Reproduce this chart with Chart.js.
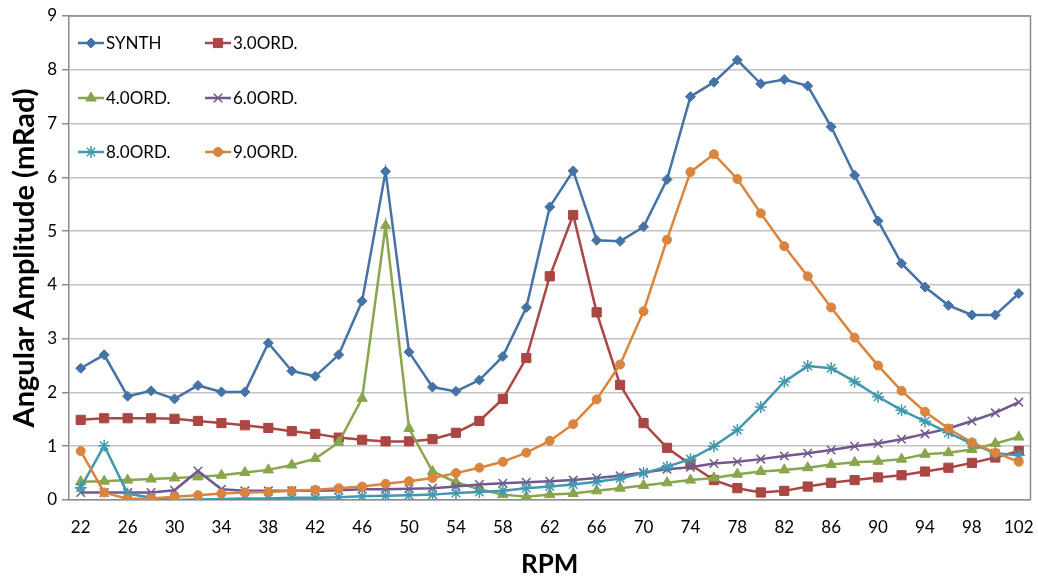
<!DOCTYPE html>
<html>
<head>
<meta charset="utf-8">
<script src="https://cdn.jsdelivr.net/npm/chart.js@4/dist/chart.umd.min.js"></script>
<style>
  html, body { margin: 0; padding: 0; background: #fff; }
  #wrap { width: 1038px; height: 580px; position: relative; }
</style>
</head>
<body>
<div id="wrap"><canvas id="c" width="1038" height="580"></canvas></div>
<script>
// RPM categories, 22 to 102 in steps of 2
const rpm = [22,24,26,28,30,32,34,36,38,40,42,44,46,48,50,52,54,56,58,60,62,64,66,68,70,72,74,76,78,80,82,84,86,88,90,92,94,96,98,100,102];

// Angular amplitude per order (mRad)
const synth = [2.45,2.70,1.93,2.03,1.88,2.13,2.01,2.01,2.92,2.40,2.30,2.70,3.70,6.11,2.75,2.10,2.02,2.23,2.67,3.58,5.45,6.12,4.83,4.81,5.08,5.96,7.50,7.77,8.18,7.74,7.82,7.70,6.94,6.04,5.19,4.40,3.96,3.62,3.44,3.44,3.84];
const ord3  = [1.49,1.52,1.52,1.52,1.51,1.47,1.43,1.39,1.34,1.28,1.23,1.16,1.12,1.09,1.09,1.13,1.25,1.47,1.88,2.64,4.16,5.30,3.49,2.14,1.43,0.97,0.66,0.37,0.22,0.14,0.17,0.25,0.32,0.37,0.42,0.46,0.53,0.60,0.69,0.79,0.91];
const ord4  = [0.34,0.35,0.37,0.39,0.41,0.43,0.46,0.51,0.56,0.65,0.77,1.07,1.89,5.10,1.33,0.53,0.33,0.20,0.10,0.06,0.10,0.12,0.17,0.22,0.27,0.32,0.37,0.41,0.48,0.53,0.56,0.60,0.66,0.70,0.72,0.76,0.85,0.88,0.94,1.05,1.17];
const ord6  = [0.14,0.14,0.14,0.14,0.18,0.54,0.20,0.17,0.17,0.17,0.17,0.18,0.20,0.20,0.21,0.22,0.25,0.29,0.31,0.33,0.35,0.37,0.41,0.45,0.51,0.57,0.61,0.68,0.71,0.76,0.82,0.87,0.93,1.00,1.05,1.13,1.23,1.33,1.47,1.62,1.82];
const ord8  = [0.23,1.01,0.12,0.04,0.00,0.01,0.02,0.03,0.03,0.04,0.04,0.05,0.07,0.08,0.09,0.10,0.13,0.15,0.17,0.22,0.25,0.29,0.34,0.40,0.50,0.62,0.76,1.00,1.30,1.73,2.20,2.49,2.45,2.20,1.92,1.67,1.46,1.25,1.05,0.87,0.83];
const ord9  = [0.91,0.14,0.02,0.03,0.06,0.09,0.12,0.14,0.15,0.17,0.19,0.22,0.25,0.30,0.35,0.41,0.50,0.60,0.71,0.88,1.10,1.41,1.87,2.52,3.51,4.84,6.10,6.43,5.97,5.33,4.72,4.16,3.58,3.02,2.50,2.03,1.64,1.33,1.07,0.88,0.71];

// Y tick values
const yTicks = [0,1,2,3,4,5,6,7,8,9];

const FONT = 'Lato, "Open Sans", sans-serif';

const series = [
  { label: 'SYNTH',    data: synth, color: '#4572A7', style: 'rectRot',  r: 5,   order: 6 },
  { label: '3.0ORD.',  data: ord3,  color: '#AA4643', style: 'rect',     r: 6.5, order: 5 },
  { label: '4.0ORD.',  data: ord4,  color: '#89A54E', style: 'triangle', r: 6,   order: 4 },
  { label: '6.0ORD.',  data: ord6,  color: '#71588F', style: 'crossRot', r: 6,   order: 3 },
  { label: '8.0ORD.',  data: ord8,  color: '#4198AF', style: 'star',     r: 6,   order: 2 },
  { label: '9.0ORD.',  data: ord9,  color: '#DB843D', style: 'circle',   r: 4.5, order: 1 }
];

const datasets = series.map(s => ({
  label: s.label,
  data: s.data,
  borderColor: s.color,
  backgroundColor: s.color,
  borderWidth: 2.5,
  pointStyle: s.style,
  pointRadius: s.r,
  pointBorderColor: s.color,
  pointBackgroundColor: s.color,
  pointBorderWidth: (s.style === 'crossRot' || s.style === 'star') ? 1.5 : 1,
  tension: 0,
  order: s.order
}));

// Legend drawn inside the plot area, 2 columns x 3 rows
const insideLegend = {
  id: 'insideLegend',
  afterDatasetsDraw(chart) {
    const ctx = chart.ctx;
    const cols = [78, 205];
    const rows = [43, 98, 152];
    ctx.save();
    ctx.font = '17px ' + FONT;
    ctx.textBaseline = 'middle';
    ctx.textAlign = 'left';
    series.forEach((s, i) => {
      const x = cols[i % 2];
      const y = rows[Math.floor(i / 2)];
      ctx.strokeStyle = s.color;
      ctx.lineWidth = 2.5;
      ctx.beginPath();
      ctx.moveTo(x, y);
      ctx.lineTo(x + 26, y);
      ctx.stroke();
      ctx.fillStyle = s.color;
      ctx.lineWidth = (s.style === 'crossRot' || s.style === 'star') ? 1.5 : 1;
      Chart.helpers.drawPoint(ctx, { pointStyle: s.style, radius: s.r, rotation: 0, borderWidth: 1 }, x + 13, y);
      ctx.fillStyle = '#000';
      ctx.fillText(s.label, x + 28, y + 1);
    });
    ctx.restore();
  }
};

// Plot area frame (top and right edges)
const frame = {
  id: 'frame',
  beforeDatasetsDraw(chart) {
    const a = chart.chartArea;
    const ctx = chart.ctx;
    ctx.save();
    ctx.strokeStyle = '#8c8c8c';
    ctx.lineWidth = 1.5;
    ctx.beginPath();
    ctx.moveTo(a.left, a.top);
    ctx.lineTo(a.right, a.top);
    ctx.lineTo(a.right, a.bottom);
    ctx.stroke();
    ctx.restore();
  }
};

new Chart(document.getElementById('c'), {
  type: 'line',
  data: { labels: rpm, datasets },
  options: {
    responsive: false,
    animation: false,
    layout: { padding: { left: 0, right: 0, top: 16, bottom: 0 } },
    plugins: {
      legend: { display: false },
      tooltip: { enabled: false }
    },
    scales: {
      x: {
        offset: true,
        // invisible tick marks only push the labels down
        grid: { display: true, drawOnChartArea: false, drawTicks: true, tickLength: 15, tickColor: 'rgba(0,0,0,0)', color: 'rgba(0,0,0,0)' },
        border: { display: true, color: '#8c8c8c', width: 1.5 },
        ticks: {
          autoSkip: false,
          maxRotation: 0,
          color: '#000',
          font: { family: FONT, size: 17 },
          padding: 2,
          callback: function (v, i) { return i % 2 === 0 ? rpm[i] : ''; }
        },
        title: {
          display: true,
          text: 'RPM',
          color: '#000',
          font: { family: FONT, size: 26, weight: 'bold' },
          padding: { top: 10, bottom: 0 }
        },
        afterFit(scale) { scale.height = 80; }
      },
      y: {
        min: 0,
        max: 9,
        afterBuildTicks(scale) { scale.ticks = yTicks.map(v => ({ value: v })); },
        grid: { color: '#c4c4c4', lineWidth: 1.5, tickLength: 7, tickColor: '#8c8c8c' },
        border: { display: true, color: '#8c8c8c', width: 1.5 },
        ticks: {
          color: '#000',
          font: { family: FONT, size: 17 },
          padding: 5
        },
        title: {
          display: true,
          text: 'Angular Amplitude (mRad)',
          color: '#000',
          font: { family: FONT, size: 29, weight: 'bold' },
          padding: { top: 7, bottom: 0 }
        },
        afterFit(scale) { scale.width = 69; }
      }
    }
  },
  plugins: [frame, insideLegend]
});
</script>
</body>
</html>
